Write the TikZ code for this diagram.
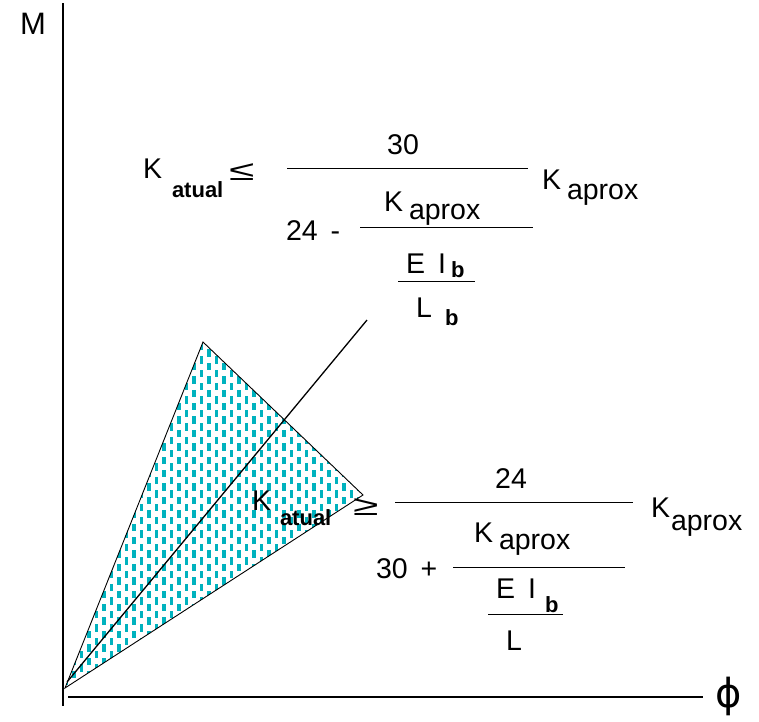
\documentclass[tikz,border=0pt]{standalone}
\usepackage{fontspec}
\setmainfont{Liberation Sans}
\newfontfamily\djv{DejaVu Sans}
\definecolor{hatch}{RGB}{0,178,190}
\tikzset{
  txt/.style={inner sep=0pt, outer sep=0pt, anchor=base west, font=\fontsize{28.5}{32}\selectfont},
  bsub/.style={inner sep=0pt, outer sep=0pt, anchor=base west, font=\fontsize{22}{26}\selectfont\bfseries},
  rel/.style={inner sep=0pt, outer sep=0pt, anchor=base west, font=\fontsize{28}{32}\selectfont},
  axis/.style={line width=2pt},
  fracline/.style={line width=1pt},
  edge/.style={line width=0.9pt},
}
\begin{document}
\begin{tikzpicture}[x=1pt,y=-1pt]
\useasboundingbox (0,0) rectangle (759,721);
% hatched region
\coordinate (O) at (65,688);
\coordinate (T) at (203,342);
\coordinate (R) at (363,495);
\begin{scope}
  \clip (O) -- (T) -- (R) -- cycle;
  \foreach \i in {0,...,42}{
    \pgfmathsetmacro{\xx}{57+7.5*\i}
    \pgfmathsetmacro{\off}{mod(\i,2)*6.7}
    \foreach \j in {0,...,27}{
      \fill[hatch] ({\xx},{336+13.4*\j+\off}) rectangle ++(3.5,7.4);
    }
  }
\end{scope}
\draw[edge] (O) -- (T) -- (R) -- cycle;
% diagonal line
\coordinate (d0) at (67,682);
\coordinate (d1) at (367,320);
\draw[line width=1.3pt] (d0) -- (d1);
% axes
\coordinate (ytop) at (63,3);
\coordinate (ybot) at (63,706);
\coordinate (xl) at (68,697);
\coordinate (xr) at (703,697);
\draw[axis] (ytop) -- (ybot);
\draw[axis] (xl) -- (xr);
\node[inner sep=0pt, font=\fontsize{31}{34}\selectfont] (m) at (33,24) {M};
\node[inner sep=0pt, font=\djv\fontsize{40}{44}\selectfont] (phi) at (729,696) {ϕ};
% upper formula
\node[txt] (k1) at (143,178) {K};
\node[bsub] (a1) at (172,197) {atual};
\node[rel] (le) at (229,180) {\scalebox{1.65}[1]{≤}};
\node[txt, anchor=base] (n30) at (403,154) {30};
\draw[fracline] (287,168) coordinate (f1a) -- (528,168) coordinate (f1b);
\node[txt] (kr1) at (542,189) {K};
\node[txt] (ar1) at (567,199) {aprox};
\node[txt] (n24) at (286,240) {24\hspace{13pt}-};
\node[txt] (ki1) at (384,211) {K};
\node[txt] (ai1) at (409,219) {aprox};
\draw[fracline] (360,227) coordinate (f2a) -- (533,227) coordinate (f2b);
\node[txt] (ei1) at (406,273) {E\hspace{13pt}I};
\node[bsub] (b1) at (451,277) {b};
\draw[fracline] (398,281) coordinate (f3a) -- (475,281) coordinate (f3b);
\node[txt] (l1) at (416,317) {L};
\node[bsub] (b2) at (445,325) {b};
% lower formula
\node[txt] (k2) at (252,510) {K};
\node[bsub] (a2) at (280,525) {atual};
\node[rel] (ge) at (353,515) {\scalebox{1.65}[1]{≥}};
\node[txt, anchor=base] (n24b) at (511,488) {24};
\draw[fracline] (395,502) coordinate (g1a) -- (633,502) coordinate (g1b);
\node[txt] (kr2) at (651,517) {K};
\node[txt] (ar2) at (671,530) {aprox};
\node[txt] (n30b) at (376,578) {30\hspace{13pt}+};
\node[txt] (ki2) at (474,542) {K};
\node[txt] (ai2) at (499,549) {aprox};
\draw[fracline] (453,567) coordinate (g2a) -- (625,567) coordinate (g2b);
\node[txt] (ei2) at (496,598) {E\hspace{13pt}I};
\node[bsub] (b3) at (545,612) {b};
\draw[fracline] (488,614) coordinate (g3a) -- (563,614) coordinate (g3b);
\node[txt] (l2) at (506,650) {L};
\end{tikzpicture}
\end{document}
